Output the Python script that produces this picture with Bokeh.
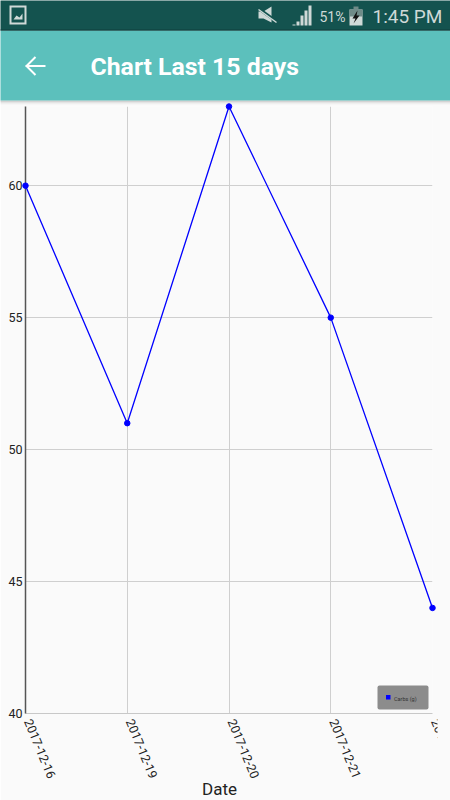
from bokeh.plotting import figure
from bokeh.embed import file_html
from bokeh.resources import INLINE
from bokeh.core.properties import value
from bokeh.models import Range1d, FixedTicker, BoxAnnotation

dates = ["2017-12-16", "2017-12-19", "2017-12-20", "2017-12-21", "2017-12-22"]
positions = [0, 1, 2, 3, 4]
carbs = [60, 51, 63, 55, 44]
y_ticks = [40, 45, 50, 55, 60]
series_name = "Carbs (g)"
title_text = "Chart Last 15 days"
x_title = "Date"

BG = "#fafafa"
W, H = 450, 800
F_L, F_R, F_T, F_B = 25, 432, 106, 713

p = figure(width=W, height=H, output_backend="svg", toolbar_location=None,
           x_range=Range1d(0, 4), y_range=Range1d(40, 63),
           min_border_left=F_L, min_border_right=W - F_R,
           min_border_top=F_T, min_border_bottom=H - F_B)
p.background_fill_color = BG
p.border_fill_color = BG
p.outline_line_color = None

xa, ya = p.xaxis[0], p.yaxis[0]
xa.ticker = FixedTicker(ticks=positions)
xa.major_label_overrides = {i: "" for i in positions}
xa.major_tick_line_color = None
xa.major_tick_out = 0
xa.minor_tick_line_color = None
xa.minor_tick_out = 0
xa.axis_line_color = "#c8c8c8"

ya.ticker = FixedTicker(ticks=y_ticks)
ya.major_label_text_font = "Roboto"
ya.major_label_text_font_size = "12.5px"
ya.major_label_text_color = "#222222"
ya.major_tick_line_color = None
ya.major_tick_out = 0
ya.minor_tick_line_color = None
ya.minor_tick_out = 0
ya.axis_line_color = "#555555"
ya.axis_line_width = 1.5
ya.major_label_standoff = 3

p.grid.grid_line_color = "#cfcfcf"
p.grid.grid_line_width = 1

p.line(positions, carbs, line_color="#0000ff", line_width=1.3, level="annotation")
p.scatter(positions, carbs, marker="circle", size=5.5, color="#0000ff", level="annotation")

p.text(positions, [40] * len(positions), text=dates, angle=-1.18, x_offset=2.5, y_offset=6,
       text_align="left", text_baseline="middle", text_font=value("Roboto"),
       text_font_size="12.5px", text_color="#222222", level="overlay")


# page pixels -> data, for decoration outside the plot frame
def X(px):
    return (px - F_L) * 4 / (F_R - F_L)


def Y(py):
    return 40 + (F_B - py) * 23 / (F_B - F_T)


def rect(l, t, r, b, color, alpha=1.0):
    p.quad(left=[X(l)], right=[X(r)], top=[Y(t)], bottom=[Y(b)],
           fill_color=color, fill_alpha=alpha, line_color=None, level="overlay")


def txt(x, y, s, size, color, style="normal", align="left"):
    p.text([X(x)], [Y(y)], text=[s], text_font=value("Roboto"), text_font_size=size,
           text_color=color, text_font_style=style, text_baseline="middle",
           text_align=align, level="overlay")


def line(xs, ys, color, width):
    p.line([X(a) for a in xs], [Y(b) for b in ys], line_color=color, line_width=width,
           level="overlay")


def patch(xs, ys, color):
    p.patch([X(a) for a in xs], [Y(b) for b in ys], fill_color=color, line_color=None,
            level="overlay")


# last tick label is cut off by the screen edge in the reference
rect(437, 714, 450, 800, BG)

# legend
p.add_layout(BoxAnnotation(left=X(377), right=X(428), top=Y(685), bottom=Y(709),
                           fill_color="#8c8c8c", fill_alpha=1.0, line_color=None,
                           border_radius=2, level="annotation"))
rect(385.5, 694.5, 390, 699, "#0000ff")
txt(393.5, 698, series_name, "5.5px", "#333333")

# axis title
txt(219, 788, x_title, "17px", "#222222", align="center")

# header drop shadow
for i, a in enumerate([0.20, 0.12, 0.06, 0.03]):
    rect(0, 100 + i, W, 101 + i, "#000000", a)

# app bar
ICON = "#cfd9d7"
BAR = "#14534f"
rect(0, 30, W, 100, "#5cc0bc")
rect(0, 0, W, 30, BAR)
rect(0, 29, W, 30, "#0e3f3c")
txt(90, 66, title_text, "24.8px", "#ffffff", "bold")

# back arrow
line([25, 45], [65.5, 65.5], "#ffffff", 2)
line([35, 26, 35], [56.5, 65.5, 74.5], "#ffffff", 2)

# picture icon
rect(9, 5, 26, 24, ICON)
rect(11, 7, 24, 22, BAR)
patch([13, 16, 19, 22, 22, 13], [19, 15, 17, 13, 19, 19], ICON)

# mute icon
patch([258, 263, 271, 271, 263, 258], [11, 11, 6, 22, 18, 18], ICON)
line([258, 276], [8, 21], BAR, 3)
line([258, 276], [9, 22], ICON, 1.5)

# signal bars
for l, t in [(292, 25), (296, 21), (300, 15), (304, 10), (308, 5)]:
    rect(l, t - 1 if t == 25 else t, l + 3, 25, ICON)

txt(319, 16, "51%", "14px", ICON)

# battery
rect(349, 9, 362, 25, ICON)
rect(349, 9, 362, 16, "#6f8b88")
rect(353, 6, 358, 9, "#6f8b88")
patch([357, 352, 355, 353, 359, 356], [10, 18, 18, 23, 15, 15], "#111111")

txt(372, 16, "1:45 PM", "19px", ICON)

open("out.html", "w").write(file_html(p, INLINE))
